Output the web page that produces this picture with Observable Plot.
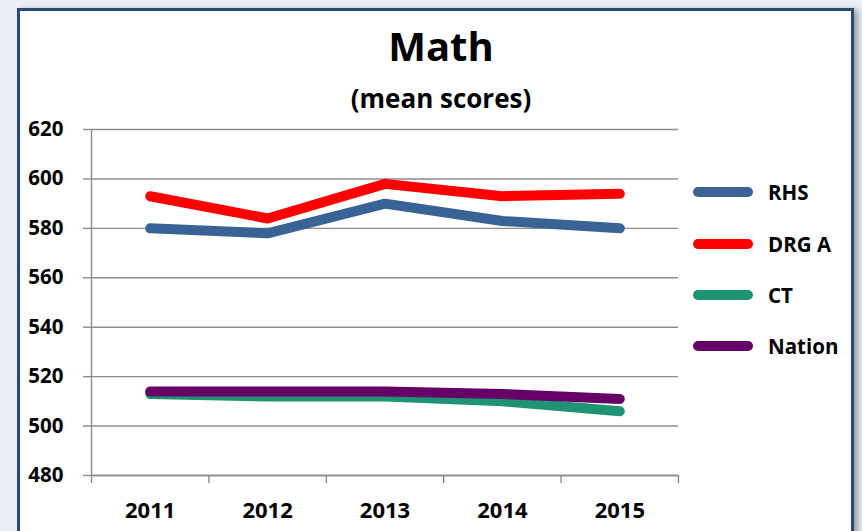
<!DOCTYPE html>
<html>
<head>
<meta charset="utf-8">
<script src="https://cdn.jsdelivr.net/npm/d3@7"></script>
<script src="https://cdn.jsdelivr.net/npm/@observablehq/plot@0.6"></script>
<style>
  body { margin: 0; background: #e9eef7; font-family: "Open Sans", sans-serif; }
  #wrap { position: relative; width: 862px; height: 531px; overflow: hidden; background: #e9eef7; }
  #frame { position: absolute; left: 17px; top: 8px; width: 837px; height: 600px; background: #fff;
           border: 3px solid #2b4a70; box-sizing: border-box; box-shadow: 4px 2px 6px rgba(0,0,0,0.35); }
  .title { position: absolute; left: 291px; width: 300px; text-align: center; font-weight: bold; color: #000; white-space: nowrap; }
  #t1 { top: 26px; font-size: 40px; line-height: 40px; }
  #t2 { top: 85px; font-size: 26px; line-height: 26px; }
  #chart { position: absolute; left: 0; top: 110px; }
  .lg { position: absolute; left: 693px; height: 24px; display: flex; align-items: center; }
  .lg .sw { display: inline-block; width: 60px; height: 10px; border-radius: 5px; }
  .lg .lb { margin-left: 15px; font-size: 20.5px; line-height: 24px; font-weight: bold; color: #000; white-space: nowrap; }
</style>
</head>
<body>
<div id="wrap">
  <div id="frame"></div>
  <div class="title" id="t1">Math</div>
  <div class="title" id="t2">(mean scores)</div>
  <div id="chart"></div>
  <div id="legend"></div>
</div>
<script>
const years = [2011, 2012, 2013, 2014, 2015];
const series = ["RHS", "DRG A", "CT", "Nation"];
const colors = ["#3a6395", "#ff0000", "#1e9474", "#660066"];
const rhs = [580, 578, 590, 583, 580];
const drgA = [593, 584, 598, 593, 594];
const ct = [513, 512, 512, 510, 506];
const nation = [514, 514, 514, 513, 511];
const yTicks = [480, 500, 520, 540, 560, 580, 600, 620];

const values = [rhs, drgA, ct, nation];
const data = series.flatMap((s, i) => years.map((yr, j) => ({series: s, year: yr, value: values[i][j]})));
const boundaries = years.map(y => y - 0.5).concat([years[years.length - 1] + 0.5]);
const gray = "#8c8c8c";

const plot = Plot.plot({
  width: 862,
  height: 421,
  marginLeft: 91,
  marginRight: 184,
  marginTop: 19,
  marginBottom: 56,
  style: {fontFamily: "Open Sans", fontSize: "20.5px", fontWeight: "bold", background: "transparent", color: "#000", overflow: "visible"},
  x: {domain: [boundaries[0], boundaries[boundaries.length - 1]]},
  y: {domain: [yTicks[0], yTicks[yTicks.length - 1]]},
  color: {domain: series, range: colors},
  marks: [
    Plot.gridY(yTicks, {stroke: gray, strokeOpacity: 1, strokeWidth: 1.4}),
    Plot.axisY(yTicks, {tickSize: 8, tickPadding: 20, stroke: gray, strokeWidth: 1.4, fill: "#000", label: null}),
    Plot.ruleX([boundaries[0]], {stroke: gray, strokeWidth: 1.4}),
    Plot.ruleY([yTicks[0]], {stroke: gray, strokeWidth: 1.4}),
    Plot.axisX(boundaries, {tickSize: 8, stroke: gray, strokeWidth: 1.4, text: null, label: null}),
    Plot.axisX(years, {tickSize: 0, tickPadding: 27, fontSize: 22, tickFormat: d => String(d), label: null, fill: "#000"}),
    Plot.line(data, {x: "year", y: "value", z: "series", stroke: "series", strokeWidth: 10,
                     strokeLinecap: "round", strokeLinejoin: "round"})
  ]
});
document.getElementById("chart").appendChild(plot);

const legendTops = [192, 244, 295, 346];
const legend = document.getElementById("legend");
series.forEach((s, i) => {
  const row = document.createElement("div");
  row.className = "lg";
  row.style.top = (legendTops[i] - 12) + "px";
  const sw = document.createElement("span");
  sw.className = "sw";
  sw.style.background = colors[i];
  const lb = document.createElement("span");
  lb.className = "lb";
  lb.textContent = s;
  row.appendChild(sw);
  row.appendChild(lb);
  legend.appendChild(row);
});
</script>
</body>
</html>
